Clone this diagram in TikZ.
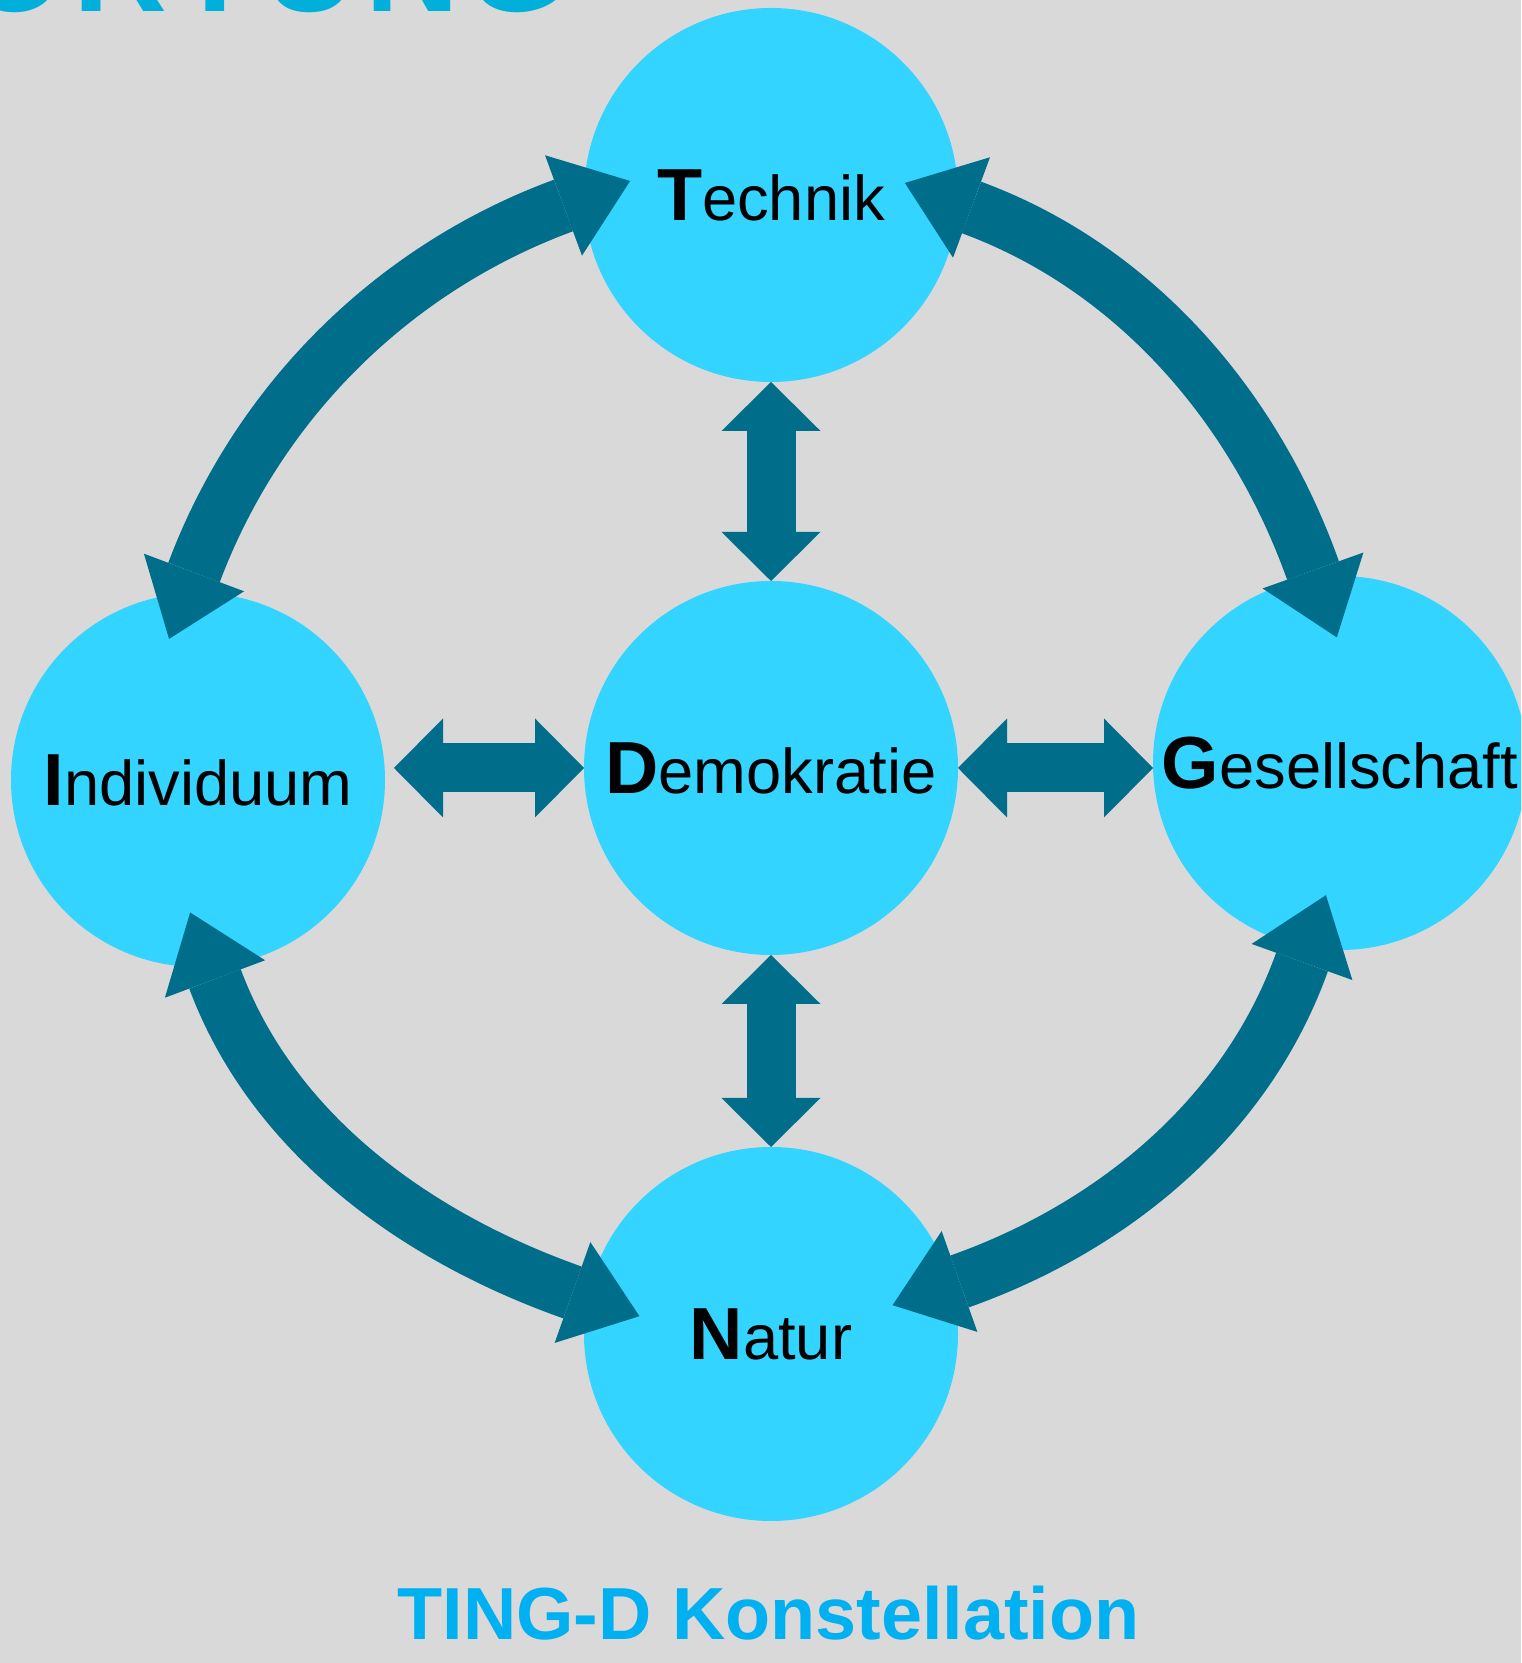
\documentclass[tikz,border=0pt]{standalone}
\usepackage{fontspec}
\setmainfont{Liberation Sans}
\usetikzlibrary{arrows.meta}

\definecolor{bggray}{HTML}{D9D9D9}
\definecolor{ballcyan}{HTML}{33D4FF}
\definecolor{arrowteal}{HTML}{006E8A}
\definecolor{titleblue}{HTML}{00B0F0}
\definecolor{headblue}{HTML}{00B0DA}

% bold, larger first letter
\newcommand{\initial}[2]{{\fontsize{21}{25}\selectfont\bfseries #1}#2}

\begin{document}
\begin{tikzpicture}[
    ball/.style={circle, fill=ballcyan, minimum size=3.74cm, inner sep=0pt, outer sep=0pt,
        font=\fontsize{18}{22}\selectfont},
    straightarrow/.style={draw=arrowteal, line width=0.49cm,
        {Triangle[width=0.99cm,length=0.49cm,line width=0pt]}-{Triangle[width=0.99cm,length=0.49cm,line width=0pt]}},
    bentarrow/.style={draw=arrowteal, line width=0.55cm, shorten <=-0.71cm, shorten >=-0.71cm,
        {Triangle[width=1.07cm,length=0.71cm,line width=0pt]}-{Triangle[width=1.07cm,length=0.71cm,line width=0pt]}}
]

    % Background
    \fill[bggray] (0,0) rectangle (15.21,16.63);
    \useasboundingbox (0,0) rectangle (15.21,16.63);
    \clip (0,0) rectangle (15.21,16.63);

    % Heading, cut off at the top
    \node[anchor=base east, inner sep=0pt, text=headblue, font=\fontsize{37}{42}\selectfont\bfseries] (heading) at (5.69,16.51)
        {V\kern2.3pt E\kern2.3pt R\kern2.3pt A\kern2.3pt N\kern2.3pt T\kern2.3pt W\kern2.3pt O\kern2.3pt R\kern2.3pt T\kern2.3pt U\kern2.3pt N\kern2.3pt G};

    % Circles
    \node[ball] (technik) at (7.71,14.68) {\initial{T}{echnik}};
    \node[ball] (demokratie) at (7.71,8.95) {\initial{D}{emokratie}};
    \node[ball] (individuum) at (1.98,8.83) {\initial{I}{ndividuum}};
    \node[ball] (gesellschaft) at (13.40,9.00) {\initial{G}{esellschaft}};
    \node[ball] (natur) at (7.71,3.29) {\initial{N}{atur}};

    % Straight double arrows
    \draw[straightarrow] (technik.south) -- (demokratie.north);
    \draw[straightarrow] (demokratie.south) -- (natur.north);
    \draw[straightarrow, shorten <=0.09cm] (individuum.east |- demokratie.west) -- (demokratie.west);
    \draw[straightarrow] (demokratie.east) -- (gesellschaft.west |- demokratie.east);

    % Ends of the bent arrow shafts
    \coordinate (tech-l) at (5.635,14.575);
    \coordinate (indi-t) at (1.94,10.905);
    \coordinate (tech-r) at (9.715,14.555);
    \coordinate (gese-t) at (13.13,10.925);
    \coordinate (indi-b) at (2.15,6.84);
    \coordinate (natu-l) at (5.725,3.705);
    \coordinate (gese-b) at (13.02,7.01);
    \coordinate (natu-r) at (9.595,3.815);

    % Bent double arrows
    \draw[bentarrow] (tech-l) .. controls +(200.2:1.82) and +(69.4:1.82) .. (indi-t);
    \draw[bentarrow] (tech-r) .. controls +(339.8:1.74) and +(109.6:1.74) .. (gese-t);
    \draw[bentarrow] (indi-b) .. controls +(290.5:1.66) and +(160.5:1.66) .. (natu-l);
    \draw[bentarrow] (gese-b) .. controls +(250.3:1.64) and +(19.5:1.64) .. (natu-r);

    % Caption
    \node[anchor=base, text=titleblue, font=\fontsize{21}{25}\selectfont\bfseries] (caption) at (7.685,0.24) {TING-D Konstellation};

\end{tikzpicture}
\end{document}
